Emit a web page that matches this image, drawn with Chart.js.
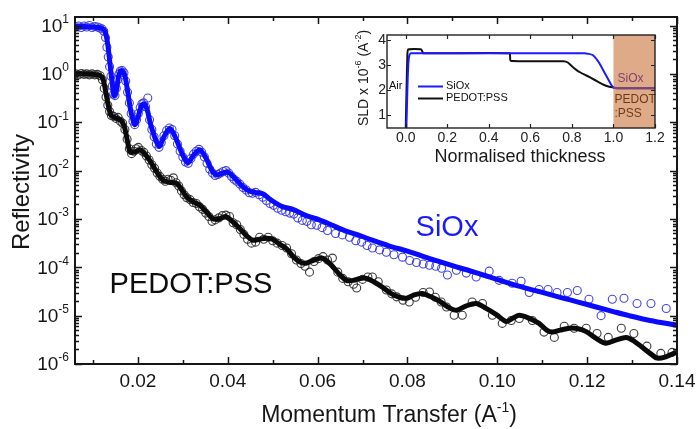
<!DOCTYPE html>
<html>
<head>
<meta charset="utf-8">
<script src="https://cdn.jsdelivr.net/npm/chart.js@4/dist/chart.umd.min.js"></script>
<style>
html,body{margin:0;padding:0;background:#fff;}
#wrap{position:relative;width:697px;height:429px;background:#fff;}
#wrap canvas{position:absolute;left:0;top:0;}
</style>
</head>
<body>
<div id="wrap">
<canvas id="main" width="697" height="429"></canvas>
<canvas id="inset" width="697" height="429"></canvas>
</div>
<script>
// ---------------- data ----------------
// Main chart: x = momentum transfer q (A^-1), y = reflectivity (log scale)
const xMajorTicks = [0.02, 0.04, 0.06, 0.08, 0.10, 0.12, 0.14];
const xTickLabels = ['0.02', '0.04', '0.06', '0.08', '0.10', '0.12', '0.14'];
const xMinorTicks = [0.01, 0.03, 0.05, 0.07, 0.09, 0.11, 0.13];
const yMajorTicks = [10, 1, 0.1, 0.01, 1e-3, 1e-4, 1e-5, 1e-6];
const yTickExponents = ['1', '0', '-1', '-2', '-3', '-4', '-5', '-6'];

// SiOx fit curve [q, R]
const sioxFit = [
  [0.006,9.55],[0.008,9.55],[0.010,9.33],[0.011,9.12],[0.012,8.71],[0.0127,7.59],[0.0133,3.98],[0.0138,1.58],[0.0143,0.631],[0.0147,0.355],
  [0.0152,0.447],[0.0157,0.891],[0.0163,1.17],[0.0170,1.0],[0.0177,0.447],[0.0185,0.158],[0.0193,0.0891],[0.0200,0.126],[0.0207,0.209],[0.0213,0.240],
  [0.0220,0.191],[0.0230,0.0794],[0.0247,0.0316],[0.0258,0.0501],[0.0271,0.0741],[0.0283,0.0501],[0.0297,0.0240],[0.0311,0.0145],[0.0324,0.0209],[0.0338,0.0269],
  [0.0352,0.0178],[0.0365,0.0100],[0.0376,8.13e-3],[0.0388,8.91e-3],[0.0400,9.33e-3],[0.0415,7.08e-3],[0.0430,5.01e-3],[0.0447,3.80e-3],[0.0460,3.55e-3],[0.0478,3.31e-3],
  [0.0495,2.51e-3],[0.0520,1.82e-3],[0.0545,1.58e-3],[0.0575,1.17e-3],[0.0604,9.55e-4],[0.0630,7.59e-4],[0.0660,5.75e-4],[0.0690,4.68e-4],[0.0722,3.63e-4],[0.0760,2.75e-4],
  [0.0798,2.19e-4],[0.0833,1.70e-4],[0.0870,1.32e-4],[0.0909,1.02e-4],[0.0945,8.13e-5],[0.0982,6.31e-5],[0.1020,4.90e-5],[0.1056,3.89e-5],[0.1100,3.02e-5],[0.1144,2.34e-5],
  [0.1180,1.91e-5],[0.1220,1.51e-5],[0.1260,1.20e-5],[0.1293,1.0e-5],[0.1340,7.94e-6],[0.1400,6.31e-6]
];

// SiOx measured points [q, R]
const sioxData = [
  [0.0062,9.33],[0.0068,9.77],[0.0074,9.12],[0.0080,9.77],[0.0086,9.33],[0.0092,10.0],[0.0098,9.12],[0.0104,9.55],[0.0110,9.33],[0.0115,8.91],
  [0.0120,8.51],[0.0124,7.59],[0.0128,5.62],[0.0131,3.55],[0.0134,2.24],[0.0137,1.41],[0.0140,0.891],[0.0143,0.562],[0.0146,0.380],[0.0149,0.355],
  [0.0152,0.501],[0.0155,0.759],[0.0158,1.0],[0.0161,1.15],[0.0165,1.17],[0.0169,1.05],[0.0173,0.708],[0.0177,0.417],[0.0181,0.251],[0.0185,0.151],
  [0.0189,0.105],[0.0193,0.0891],[0.0197,0.112],[0.0201,0.151],[0.0205,0.200],[0.0209,0.240],[0.0213,0.251],[0.0217,0.209],[0.0222,0.316],[0.0226,0.112],
  [0.0231,0.0708],[0.0236,0.0501],[0.0241,0.0355],[0.0247,0.0302],[0.0252,0.0380],[0.0258,0.0525],[0.0264,0.0676],[0.0270,0.0759],[0.0276,0.0708],[0.0282,0.0525],
  [0.0288,0.0355],[0.0294,0.0251],[0.0300,0.0191],[0.0306,0.0151],[0.0312,0.0141],[0.0318,0.0178],[0.0324,0.0219],[0.0330,0.0251],[0.0336,0.0275],[0.0342,0.0240],
  [0.0348,0.0191],[0.0354,0.0141],[0.0360,0.0107],[0.0366,8.91e-3],[0.0372,7.94e-3],[0.0378,8.32e-3],[0.0384,8.91e-3],[0.0390,9.55e-3],[0.0396,0.0100],[0.0402,8.91e-3],
  [0.0408,7.59e-3],[0.0414,6.61e-3],[0.0420,6.03e-3],[0.0427,5.25e-3],[0.0434,4.47e-3],[0.0441,3.98e-3],[0.0448,3.47e-3],[0.0455,3.39e-3],[0.0462,3.55e-3],[0.0470,3.16e-3],
  [0.0478,2.82e-3],[0.0486,2.40e-3],[0.0494,2.09e-3],[0.0502,1.91e-3],[0.0511,1.66e-3],[0.0520,1.51e-3],[0.0529,1.41e-3],[0.0538,1.32e-3],[0.0547,1.26e-3],[0.0556,1.05e-3],
  [0.0566,9.33e-4],[0.0576,8.91e-4],[0.0586,7.59e-4],[0.0598,7.41e-4],[0.0610,6.61e-4],[0.0622,5.75e-4],[0.0640,5.01e-4],[0.0655,4.68e-4],[0.0671,4.17e-4],[0.0685,3.55e-4],
  [0.0698,3.31e-4],[0.0710,2.82e-4],[0.0722,2.51e-4],[0.0738,2.29e-4],[0.0753,2.04e-4],[0.0770,1.82e-4],[0.0789,1.62e-4],[0.0805,1.38e-4],[0.0820,1.26e-4],[0.0835,1.17e-4],
  [0.0849,1.10e-4],[0.0863,1.05e-4],[0.0876,9.55e-5],[0.0889,6.92e-5],[0.0909,8.71e-5],[0.0931,7.59e-5],[0.0953,6.31e-5],[0.0982,8.32e-5],[0.1004,5.37e-5],[0.1033,4.68e-5],
  [0.1053,5.13e-5],[0.1071,3.02e-5],[0.1093,3.47e-5],[0.1113,3.47e-5],[0.1133,3.02e-5],[0.1156,3.02e-5],[0.1178,3.31e-5],[0.1204,2.19e-5],[0.1231,1.0e-5],[0.1256,2.19e-5],
  [0.1282,2.29e-5],[0.1311,1.78e-5],[0.1342,1.78e-5],[0.1376,1.41e-5]
];

// PEDOT:PSS fit curve [q, R]
const pedotFit = [
  [0.006,1.0],[0.008,1.0],[0.010,0.977],[0.0115,0.933],[0.0122,0.794],[0.0128,0.447],[0.0134,0.224],[0.0140,0.141],[0.0147,0.126],[0.0155,0.120],
  [0.0163,0.107],[0.0170,0.0794],[0.0177,0.0398],[0.0183,0.0240],[0.0192,0.0240],[0.0204,0.0269],[0.0215,0.0224],[0.0227,0.0158],[0.0240,0.0100],[0.0256,6.31e-3],
  [0.0270,5.75e-3],[0.0287,5.37e-3],[0.0298,3.98e-3],[0.0309,2.82e-3],[0.0324,2.24e-3],[0.0338,1.91e-3],[0.0352,1.41e-3],[0.0367,1.0e-3],[0.0380,1.0e-3],[0.0395,1.12e-3],
  [0.0410,8.91e-4],[0.0427,6.31e-4],[0.0442,4.47e-4],[0.0456,3.63e-4],[0.0470,3.80e-4],[0.0485,3.98e-4],[0.0500,3.80e-4],[0.0515,3.02e-4],[0.0531,2.40e-4],[0.0548,1.58e-4],
  [0.0563,1.26e-4],[0.0576,1.23e-4],[0.0592,1.41e-4],[0.0611,1.55e-4],[0.0630,1.12e-4],[0.0649,7.08e-5],[0.0664,5.37e-5],[0.0680,5.37e-5],[0.0695,5.89e-5],[0.0709,5.89e-5],
  [0.0725,5.01e-5],[0.0744,3.89e-5],[0.0765,2.82e-5],[0.0782,2.40e-5],[0.0798,2.29e-5],[0.0815,2.69e-5],[0.0833,2.88e-5],[0.0850,2.51e-5],[0.0871,2.00e-5],[0.0890,1.51e-5],
  [0.0909,1.29e-5],[0.0930,1.58e-5],[0.0953,1.78e-5],[0.0975,1.41e-5],[0.0998,1.05e-5],[0.1020,7.59e-6],[0.1035,8.91e-6],[0.1049,1.02e-5],[0.1070,8.91e-6],[0.1093,6.92e-6],
  [0.1110,5.01e-6],[0.1122,4.57e-6],[0.1140,5.01e-6],[0.1160,5.50e-6],[0.1180,5.37e-6],[0.1198,4.68e-6],[0.1220,3.39e-6],[0.1242,2.69e-6],[0.1265,3.16e-6],[0.1287,3.55e-6],
  [0.1305,2.95e-6],[0.1322,2.24e-6],[0.1340,1.66e-6],[0.1356,1.32e-6],[0.1375,1.41e-6],[0.1398,1.74e-6]
];

// PEDOT:PSS measured points [q, R]
const pedotData = [
  [0.0062,1.0],[0.0068,0.955],[0.0074,1.02],[0.0080,0.977],[0.0086,1.0],[0.0092,0.955],[0.0098,1.0],[0.0104,0.955],[0.0110,0.977],[0.0116,0.912],
  [0.0121,0.759],[0.0125,0.501],[0.0129,0.331],[0.0133,0.224],[0.0137,0.166],[0.0141,0.138],[0.0146,0.132],[0.0151,0.120],[0.0156,0.126],[0.0161,0.105],
  [0.0166,0.0955],[0.0171,0.0708],[0.0176,0.0447],[0.0181,0.0282],[0.0186,0.0224],[0.0191,0.0251],[0.0196,0.0282],[0.0201,0.0302],[0.0207,0.0263],[0.0213,0.0240],
  [0.0219,0.0200],[0.0225,0.0166],[0.0231,0.0132],[0.0237,0.0112],[0.0243,8.91e-3],[0.0249,7.59e-3],[0.0255,6.61e-3],[0.0261,6.03e-3],[0.0267,6.61e-3],[0.0273,6.31e-3],
  [0.0279,7.08e-3],[0.0285,5.62e-3],[0.0291,4.79e-3],[0.0297,3.80e-3],[0.0303,3.16e-3],[0.0309,2.75e-3],[0.0316,2.51e-3],[0.0323,2.19e-3],[0.0330,2.09e-3],[0.0337,1.78e-3],
  [0.0344,1.58e-3],[0.0351,1.32e-3],[0.0358,1.12e-3],[0.0365,8.91e-4],[0.0372,9.55e-4],[0.0380,1.05e-3],[0.0388,1.17e-3],[0.0396,1.20e-3],[0.0404,1.12e-3],[0.0412,8.32e-4],
  [0.0420,7.59e-4],[0.0428,6.03e-4],[0.0436,4.79e-4],[0.0444,3.80e-4],[0.0453,3.16e-4],[0.0462,3.31e-4],[0.0471,4.17e-4],[0.0480,3.80e-4],[0.0490,4.17e-4],[0.0500,3.55e-4],
  [0.0510,3.16e-4],[0.0521,2.82e-4],[0.0531,2.51e-4],[0.0542,1.91e-4],[0.0553,1.41e-4],[0.0563,1.20e-4],[0.0572,1.05e-4],[0.0582,7.94e-5],[0.0592,1.32e-4],[0.0602,1.51e-4],
  [0.0612,1.66e-4],[0.0622,1.41e-4],[0.0633,1.55e-4],[0.0645,7.94e-5],[0.0656,5.89e-5],[0.0668,5.01e-5],[0.0680,4.47e-5],[0.0687,3.72e-5],[0.0700,5.62e-5],[0.0712,6.31e-5],
  [0.0722,6.31e-5],[0.0735,5.01e-5],[0.0753,3.39e-5],[0.0765,2.82e-5],[0.0776,2.45e-5],[0.0790,2.09e-5],[0.0804,1.91e-5],[0.0818,2.40e-5],[0.0835,3.02e-5],[0.0849,3.09e-5],
  [0.0862,2.40e-5],[0.0875,1.91e-5],[0.0887,1.51e-5],[0.0904,1.02e-5],[0.0922,1.02e-5],[0.0944,1.91e-5],[0.0967,1.78e-5],[0.0989,1.02e-5],[0.1011,6.92e-6],[0.1031,7.94e-6],
  [0.1049,8.71e-6],[0.1078,7.94e-6],[0.1104,4.57e-6],[0.1127,3.55e-6],[0.1149,6.03e-6],[0.1171,5.50e-6],[0.1198,5.50e-6],[0.1222,4.27e-6],[0.1247,3.55e-6],[0.1276,5.50e-6],
  [0.1304,4.27e-6],[0.1333,2.34e-6],[0.1364,1.66e-6],[0.1389,1.74e-6]
];

// Inset: SLD profiles [normalised thickness, SLD x 1e-6 A^-2]
const insetXTicks = [0.0, 0.2, 0.4, 0.6, 0.8, 1.0, 1.2];
const insetXTickLabels = ['0.0', '0.2', '0.4', '0.6', '0.8', '1.0', '1.2'];
const insetYTicks = [1, 2, 3, 4];
const insetYTickLabels = ['1', '2', '3', '4'];
const sioxSld = [
  [0.003,0.4],[0.008,2.0],[0.013,3.1],[0.018,3.4],[0.025,3.47],[0.5,3.47],[0.86,3.47],[0.9,3.4],[0.93,3.1],[0.96,2.65],[0.99,2.2],[1.0,2.1],[1.02,2.07],[1.2,2.07]
];
const pedotSld = [
  [0.0,0.4],[0.004,2.0],[0.008,3.4],[0.012,3.62],[0.075,3.62],[0.085,3.47],[0.5,3.47],[0.505,3.17],[0.76,3.15],[0.78,3.1],[0.8,2.95],[0.83,2.75],[0.87,2.58],[0.91,2.4],[0.95,2.22],[0.98,2.13],[1.0,2.1],[1.02,2.07],[1.2,2.07]
];
const substrateRange = [1.0, 1.2];

// ---------------- helpers ----------------
const FAM = "'Liberation Sans', Arial, Helvetica, sans-serif";
const F = s => s + 'px ' + FAM;
const toPts = arr => arr.map(p => ({x: p[0], y: p[1]}));

function richText(ctx, parts, x, y, size, supSize, align, color) {
  ctx.save();
  ctx.fillStyle = color;
  ctx.textBaseline = 'middle';
  ctx.textAlign = 'left';
  let w = 0;
  for (const p of parts) { ctx.font = F(p.sup ? supSize : size); w += ctx.measureText(p.t).width; }
  let cx = align === 'center' ? x - w / 2 : (align === 'right' ? x - w : x);
  for (const p of parts) {
    ctx.font = F(p.sup ? supSize : size);
    ctx.fillText(p.t, cx, p.sup ? y - size * 0.36 : y);
    cx += ctx.measureText(p.t).width;
  }
  ctx.restore();
}

function zeroFit(axis) {
  return axis === 'x' ? (s => { s.height = 0; }) : (s => { s.width = 0; });
}

// ---------------- main chart ----------------
const INK = '#161616';
const mainDeco = {
  id: 'mainDeco',
  afterDraw(chart) {
    const {ctx, chartArea: a, scales: {x, y}} = chart;
    ctx.save();
    // ticks
    ctx.strokeStyle = INK;
    ctx.lineWidth = 1.5;
    ctx.beginPath();
    for (const v of xMajorTicks) {
      const px = Math.round(x.getPixelForValue(v)) + 0.5;
      ctx.moveTo(px, a.bottom); ctx.lineTo(px, a.bottom - 7);
      ctx.moveTo(px, a.top); ctx.lineTo(px, a.top + 7);
    }
    for (const v of xMinorTicks) {
      const px = Math.round(x.getPixelForValue(v)) + 0.5;
      ctx.moveTo(px, a.bottom); ctx.lineTo(px, a.bottom - 4);
      ctx.moveTo(px, a.top); ctx.lineTo(px, a.top + 4);
    }
    for (const v of yMajorTicks) {
      const py = Math.round(y.getPixelForValue(v)) + 0.5;
      ctx.moveTo(a.left, py); ctx.lineTo(a.left + 7, py);
      ctx.moveTo(a.right, py); ctx.lineTo(a.right - 7, py);
    }
    for (const d of yMajorTicks) {
      for (let m = 2; m <= 9; m++) {
        const v = d * m;
        if (v > y.max) continue;
        const py = Math.round(y.getPixelForValue(v)) + 0.5;
        ctx.moveTo(a.left, py); ctx.lineTo(a.left + 4, py);
        ctx.moveTo(a.right, py); ctx.lineTo(a.right - 4, py);
      }
    }
    ctx.stroke();
    // frame
    ctx.lineWidth = 2;
    ctx.strokeRect(a.left, a.top, a.right - a.left, a.bottom - a.top);
    // x tick labels
    ctx.fillStyle = INK;
    ctx.font = F(19);
    ctx.textAlign = 'center';
    ctx.textBaseline = 'top';
    xMajorTicks.forEach((v, i) => ctx.fillText(xTickLabels[i], x.getPixelForValue(v), a.bottom + 8));
    // y tick labels 10^n
    yMajorTicks.forEach((v, i) => {
      richText(ctx, [{t: '10'}, {t: yTickExponents[i], sup: true}], a.left - 6, y.getPixelForValue(v) + 1, 19, 12, 'right', INK);
    });
    // axis titles
    richText(ctx, [{t: 'Momentum Transfer (A'}, {t: '-1', sup: true}, {t: ')'}], 389, 416, 23, 14, 'center', INK);
    ctx.save();
    ctx.translate(22, 192);
    ctx.rotate(-Math.PI / 2);
    richText(ctx, [{t: 'Reflectivity'}], 0, 0, 24, 14, 'center', INK);
    ctx.restore();
    // series annotations
    richText(ctx, [{t: 'SiOx'}], 447, 228, 29, 14, 'center', '#1a1aff');
    richText(ctx, [{t: 'PEDOT:PSS'}], 191, 285, 29, 14, 'center', '#0d0d0d');
    ctx.restore();
  }
};

new Chart(document.getElementById('main'), {
  type: 'line',
  data: {
    datasets: [
      {label: 'SiOx fit', data: toPts(sioxFit), borderColor: '#0a0aff', borderWidth: 5, pointRadius: 0, tension: 0.3, fill: false, order: 0},
      {label: 'PEDOT:PSS fit', data: toPts(pedotFit), borderColor: '#0a0a0a', borderWidth: 5, pointRadius: 0, tension: 0.3, fill: false, order: 0},
      {label: 'SiOx data', data: toPts(sioxData), showLine: false, pointRadius: 4, pointBorderWidth: 1.1, pointBorderColor: 'rgba(50,50,225,0.9)', pointBackgroundColor: 'rgba(0,0,0,0)', order: 1},
      {label: 'PEDOT:PSS data', data: toPts(pedotData), showLine: false, pointRadius: 4, pointBorderWidth: 1.1, pointBorderColor: 'rgba(40,40,40,0.9)', pointBackgroundColor: 'rgba(0,0,0,0)', order: 1}
    ]
  },
  options: {
    responsive: false,
    devicePixelRatio: 1,
    animation: false,
    events: [],
    layout: {autoPadding: false, padding: {left: 75, top: 17, right: 20, bottom: 65}},
    plugins: {legend: {display: false}, tooltip: {enabled: false}},
    scales: {
      x: {type: 'linear', min: 0.006, max: 0.14, ticks: {display: false}, grid: {display: false}, border: {display: false}, afterFit: zeroFit('x')},
      y: {type: 'logarithmic', min: 1e-6, max: 15, ticks: {display: false}, grid: {display: false}, border: {display: false}, afterFit: zeroFit('y')}
    }
  },
  plugins: [mainDeco]
});

// ---------------- inset chart ----------------
const insetDeco = {
  id: 'insetDeco',
  afterDatasetsDraw(chart) {
    const {ctx, chartArea: a, scales: {x, y}} = chart;
    ctx.save();
    // labels inside the substrate region (drawn under the tint)
    richText(ctx, [{t: 'SiOx'}], x.getPixelForValue(1.02), 79, 12, 8, 'left', '#2a10c8');
    richText(ctx, [{t: 'PEDOT'}], x.getPixelForValue(1.005), 100, 12, 8, 'left', '#000');
    richText(ctx, [{t: ':PSS'}], x.getPixelForValue(1.005), 114, 12, 8, 'left', '#000');
    // substrate tint
    const x0 = x.getPixelForValue(substrateRange[0]);
    const x1 = x.getPixelForValue(substrateRange[1]);
    ctx.fillStyle = 'rgba(196,100,36,0.55)';
    ctx.fillRect(x0, a.top, x1 - x0, a.bottom - a.top);
    ctx.restore();
  },
  afterDraw(chart) {
    const {ctx, chartArea: a, scales: {x, y}} = chart;
    ctx.save();
    ctx.strokeStyle = '#222';
    ctx.lineWidth = 1.2;
    ctx.beginPath();
    for (const v of insetXTicks) {
      const px = Math.round(x.getPixelForValue(v)) + 0.5;
      ctx.moveTo(px, a.bottom); ctx.lineTo(px, a.bottom - 4);
      ctx.moveTo(px, a.top); ctx.lineTo(px, a.top + 4);
    }
    for (const v of insetYTicks) {
      const py = Math.round(y.getPixelForValue(v)) + 0.5;
      ctx.moveTo(a.left, py); ctx.lineTo(a.left + 4, py);
      ctx.moveTo(a.right, py); ctx.lineTo(a.right - 4, py);
    }
    ctx.stroke();
    ctx.lineWidth = 1.4;
    ctx.strokeRect(a.left, a.top, a.right - a.left, a.bottom - a.top);
    // tick labels
    ctx.fillStyle = '#222';
    ctx.font = F(14);
    ctx.textAlign = 'center';
    ctx.textBaseline = 'top';
    insetXTicks.forEach((v, i) => ctx.fillText(insetXTickLabels[i], x.getPixelForValue(v), a.bottom + 3));
    ctx.textAlign = 'right';
    ctx.textBaseline = 'middle';
    insetYTicks.forEach((v, i) => ctx.fillText(insetYTickLabels[i], a.left - 1, y.getPixelForValue(v)));
    // titles
    richText(ctx, [{t: 'Normalised thickness'}], 520, 157, 18, 12, 'center', '#1a1a1a');
    ctx.save();
    ctx.translate(364, 78);
    ctx.rotate(-Math.PI / 2);
    richText(ctx, [{t: 'SLD x 10'}, {t: '-6', sup: true}, {t: ' (A'}, {t: '-2', sup: true}, {t: ')'}], 0, 0, 14, 9, 'center', '#1a1a1a');
    ctx.restore();
    // legend
    ctx.lineWidth = 2;
    ctx.strokeStyle = '#1a1aff';
    ctx.beginPath(); ctx.moveTo(418, 86.5); ctx.lineTo(443, 86.5); ctx.stroke();
    ctx.strokeStyle = '#111';
    ctx.beginPath(); ctx.moveTo(418, 98.5); ctx.lineTo(443, 98.5); ctx.stroke();
    richText(ctx, [{t: 'SiOx'}], 446, 86, 11, 8, 'left', '#111');
    richText(ctx, [{t: 'PEDOT:PSS'}], 446, 98, 11, 8, 'left', '#111');
    richText(ctx, [{t: 'Air'}], 389, 86, 11, 8, 'left', '#111');
    ctx.restore();
  }
};

new Chart(document.getElementById('inset'), {
  type: 'line',
  data: {
    datasets: [
      {label: 'SiOx', data: toPts(sioxSld), borderColor: '#1a1aff', borderWidth: 2, pointRadius: 0, tension: 0.15, fill: false},
      {label: 'PEDOT:PSS', data: toPts(pedotSld), borderColor: '#111', borderWidth: 2, pointRadius: 0, tension: 0.15, fill: false}
    ]
  },
  options: {
    responsive: false,
    devicePixelRatio: 1,
    animation: false,
    events: [],
    layout: {autoPadding: false, padding: {left: 387, top: 35, right: 42, bottom: 301}},
    plugins: {legend: {display: false}, tooltip: {enabled: false}},
    scales: {
      x: {type: 'linear', min: -0.09, max: 1.2, ticks: {display: false}, grid: {display: false}, border: {display: false}, afterFit: zeroFit('x')},
      y: {type: 'linear', min: 0.48, max: 4.2, ticks: {display: false}, grid: {display: false}, border: {display: false}, afterFit: zeroFit('y')}
    }
  },
  plugins: [insetDeco]
});
</script>
</body>
</html>
